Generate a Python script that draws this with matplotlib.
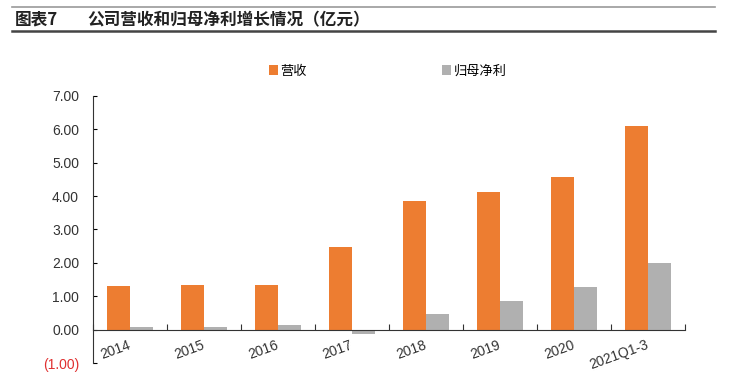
import matplotlib
matplotlib.use("Agg")
import matplotlib.pyplot as plt
import numpy as np
from matplotlib.ticker import FixedLocator, FuncFormatter

plt.rcParams['font.family'] = ['Liberation Sans', 'Noto Sans CJK SC', 'DejaVu Sans']

# ===== 数据 =====
years = ["2014", "2015", "2016", "2017", "2018", "2019", "2020", "2021Q1-3"]
revenue = [1.32, 1.35, 1.35, 2.49, 3.84, 4.11, 4.56, 6.10]      # 营收
net_profit = [0.09, 0.08, 0.13, -0.12, 0.48, 0.87, 1.29, 2.01]  # 归母净利
series_names = ["营收", "归母净利"]

ORANGE = "#ED7D31"
GRAY = "#B0B0B0"
TEXT = "#333333"

fig = plt.figure(figsize=(7.33, 3.83), dpi=100)

# 标题及上下分隔线
fig.add_artist(plt.Line2D([12 / 733, 715 / 733], [1 - 7 / 383] * 2, color="#999999", lw=1.2))
fig.add_artist(plt.Line2D([12 / 733, 715 / 733], [1 - 31 / 383] * 2, color="#444444", lw=1.8))
fig.text(15 / 733, 1 - 20 / 383, "图表7", fontsize=12, fontweight="bold",
         family=["Noto Sans CJK SC", "DejaVu Sans"], va="center", color="#222222")
fig.text(87 / 733, 1 - 20 / 383, "公司营收和归母净利增长情况（亿元）", fontsize=12, fontweight="bold",
         family=["Noto Sans CJK SC", "DejaVu Sans"], va="center", color="#222222")

ax = fig.add_axes([93 / 733, 20 / 383, 592 / 733, 267 / 383])

x = np.arange(len(years))
w = 0.31
ax.bar(x - w / 2, revenue, width=w, color=ORANGE, label=series_names[0])
ax.bar(x + w / 2, net_profit, width=w, color=GRAY, label=series_names[1])

ax.set_xlim(-0.5, len(years) - 0.5)
ax.set_ylim(-1, 7)

for s in ["top", "right"]:
    ax.spines[s].set_visible(False)
ax.spines["bottom"].set_position(("data", 0))
ax.spines["bottom"].set_color("#333333")
ax.spines["left"].set_color("#333333")

# y 轴
ax.yaxis.set_major_locator(FixedLocator(np.arange(-1, 8, 1)))
ax.yaxis.set_major_formatter(FuncFormatter(lambda v, p: f"({abs(v):.2f})" if v < 0 else f"{v:.2f}"))
ax.tick_params(axis="y", direction="in", length=3, labelsize=10, labelcolor=TEXT, pad=10)
for lab in ax.get_yticklabels():
    if lab.get_text().startswith("("):
        lab.set_color("#E03030")

# x 轴：刻度在类别分界处，标签在类别中心
ax.xaxis.set_major_locator(FixedLocator(np.arange(-0.5, len(years), 1)))
ax.xaxis.set_major_formatter(FuncFormatter(lambda v, p: ""))
ax.xaxis.set_minor_locator(FixedLocator(x + 0.03))
ax.set_xticklabels(years, minor=True, rotation=20, ha="right", fontsize=10, color=TEXT)
ax.tick_params(axis="x", which="major", direction="in", length=4, color="#333333")
ax.tick_params(axis="x", which="minor", length=0, pad=6)

ax.legend(loc="center", bbox_to_anchor=(0.5 + 21 / 733, 1 - 71 / 383), bbox_transform=fig.transFigure,
          ncol=2, frameon=False, handlelength=0.7, handleheight=0.7,
          handletextpad=0.2, columnspacing=10.2,
          prop={"family": ["Noto Sans CJK SC", "DejaVu Sans"], "size": 9.5})

fig.savefig("out.png", dpi=100)
